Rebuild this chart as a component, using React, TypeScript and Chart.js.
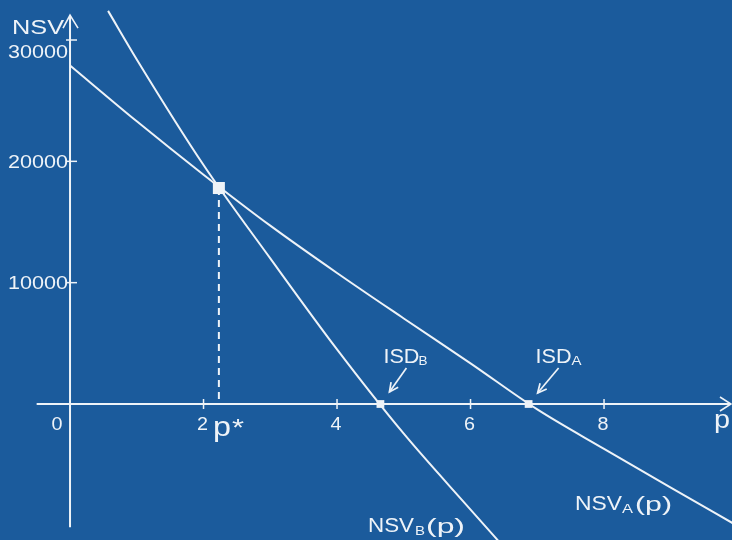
import React, { useEffect, useRef } from "react";
import { Chart, registerables } from "chart.js";

Chart.register(...registerables);

// ---- data ----
const pA = [0, 1, 2, 3, 4, 5, 6, 7, 8, 9, 10];
const nsvA = [27900, 23300, 18900, 14700, 10800, 7050, 3350, -450, -3700, -6900, -10050];

const pB = [0.57, 1, 2, 3, 4, 5, 6, 6.5];
const nsvB = [32400, 28400, 19700, 12000, 4500, -2450, -8700, -11800];

const pStar = 2.23;
const nsvStar = 17800;
const isdB = 4.65;
const isdA = 6.87;

const xTickValues = [2, 4, 6, 8];
const yTickValues = [10000, 20000, 30000];
const xOriginLabel = "0";

const BG = "rgb(27, 91, 156)";
const FG = "#eef3f8";
const FONT = '"Liberation Sans", Arial, Helvetica, sans-serif';

function fitText(
  ctx: CanvasRenderingContext2D,
  s: string,
  x: number,
  baseline: number,
  size: number,
  width: number,
  align: "left" | "center" | "right" = "left"
) {
  ctx.save();
  ctx.font = `${size}px ${FONT}`;
  const w = ctx.measureText(s).width;
  const sx = width / w;
  let left = x;
  if (align === "center") left = x - width / 2;
  if (align === "right") left = x - width;
  ctx.translate(left, baseline);
  ctx.scale(sx, 1);
  ctx.textAlign = "left";
  ctx.textBaseline = "alphabetic";
  ctx.fillStyle = FG;
  ctx.fillText(s, 0, 0);
  ctx.restore();
}

function line(ctx: CanvasRenderingContext2D, pts: number[][], w = 2) {
  ctx.beginPath();
  ctx.moveTo(pts[0][0], pts[0][1]);
  for (let i = 1; i < pts.length; i++) ctx.lineTo(pts[i][0], pts[i][1]);
  ctx.lineWidth = w;
  ctx.strokeStyle = FG;
  ctx.stroke();
}

function arrow(ctx: CanvasRenderingContext2D, x1: number, y1: number, x2: number, y2: number) {
  line(ctx, [[x1, y1], [x2, y2]], 1.7);
  const a = Math.atan2(y2 - y1, x2 - x1);
  const L = 10;
  line(
    ctx,
    [
      [x2 - L * Math.cos(a - 0.45), y2 - L * Math.sin(a - 0.45)],
      [x2, y2],
      [x2 - L * Math.cos(a + 0.45), y2 - L * Math.sin(a + 0.45)],
    ],
    1.7
  );
}

const decorPlugin = {
  id: "decor",
  beforeDraw(chart: any) {
    const { ctx, width, height } = chart;
    ctx.save();
    ctx.fillStyle = BG;
    ctx.fillRect(0, 0, width, height);
    ctx.restore();
  },
  beforeDatasetsDraw(chart: any) {
    const ctx = chart.ctx as CanvasRenderingContext2D;
    const xs = chart.scales.x;
    const ys = chart.scales.y;
    const x0 = xs.getPixelForValue(0);
    const y0 = ys.getPixelForValue(0);
    ctx.save();
    ctx.lineCap = "butt";
    // x axis
    const xl = xs.getPixelForValue(-0.5);
    const xr = chart.chartArea.right - 1;
    line(ctx, [[xl, y0], [xr, y0]], 2);
    line(ctx, [[xr - 11, y0 - 7], [xr, y0], [xr - 11, y0 + 7]], 1.6);
    // y axis
    const yb = ys.getPixelForValue(-10150);
    const yt = ys.getPixelForValue(32050);
    line(ctx, [[x0, yb], [x0, yt]], 2);
    line(ctx, [[x0 - 7, yt + 13], [x0, yt], [x0 + 8, yt + 13]], 1.6);
    // ticks
    for (const v of xTickValues) {
      const px = xs.getPixelForValue(v);
      line(ctx, [[px, y0 - 5], [px, y0 + 5]], 1.5);
    }
    for (const v of yTickValues) {
      const py = ys.getPixelForValue(v);
      line(ctx, [[x0 - 4, py], [x0 + 7, py]], 1.5);
    }
    ctx.restore();
  },
  afterDraw(chart: any) {
    const ctx = chart.ctx as CanvasRenderingContext2D;
    const xs = chart.scales.x;
    const ys = chart.scales.y;
    const x0 = xs.getPixelForValue(0);
    const y0 = ys.getPixelForValue(0);
    ctx.save();
    // y tick labels
    for (const v of yTickValues) {
      const py = ys.getPixelForValue(v);
      const off = v === 30000 ? 18 : 6.5;
      fitText(ctx, String(v), x0 - 2, py + off, 18, 60, "right");
    }
    // x tick labels
    fitText(ctx, xOriginLabel, x0 - 13, y0 + 26, 18, 11, "center");
    for (const v of xTickValues) {
      const px = xs.getPixelForValue(v);
      fitText(ctx, String(v), px - 1, y0 + 26, 18, 11, "center");
    }
    // axis titles
    fitText(ctx, "NSV", 12, 34, 19.5, 52, "left");
    fitText(ctx, "p", chart.chartArea.right - 18, y0 + 24, 26, 16, "left");
    // p*
    const ps = xs.getPixelForValue(pStar);
    fitText(ctx, "p", ps - 6, y0 + 32, 27, 18, "left");
    fitText(ctx, "*", ps + 13, y0 + 32, 24, 12, "left");
    // ISD labels and arrows
    const pb = xs.getPixelForValue(isdB);
    fitText(ctx, "ISD", pb + 3, y0 - 41, 20.5, 36, "left");
    fitText(ctx, "B", pb + 38, y0 - 39, 13, 9, "left");
    arrow(ctx, pb + 26, y0 - 36, pb + 9, y0 - 12);
    const pa = xs.getPixelForValue(isdA);
    fitText(ctx, "ISD", pa + 7, y0 - 41, 20.5, 36, "left");
    fitText(ctx, "A", pa + 43, y0 - 39, 13, 10, "left");
    arrow(ctx, pa + 30, y0 - 36, pa + 9, y0 - 11);
    // curve labels
    fitText(ctx, "NSV", 368, 532, 19.5, 46, "left");
    fitText(ctx, "B", 415, 535, 13, 10, "left");
    fitText(ctx, "(p)", 426, 533, 20, 39, "left");
    fitText(ctx, "NSV", 575, 510, 19.5, 47, "left");
    fitText(ctx, "A", 622, 513, 13, 11, "left");
    fitText(ctx, "(p)", 635, 511, 20, 37, "left");
    ctx.restore();
  },
};

export default function App() {
  const ref = useRef<HTMLCanvasElement | null>(null);

  useEffect(() => {
    document.body.style.margin = "0";
    const canvas = ref.current;
    if (!canvas) return;
    const chart = new Chart(canvas, {
      type: "scatter",
      data: {
        datasets: [
          {
            label: "NSV_A(p)",
            data: pA.map((p, i) => ({ x: p, y: nsvA[i] })),
            showLine: true,
            borderColor: FG,
            borderWidth: 2,
            pointRadius: 0,
            cubicInterpolationMode: "monotone",
          },
          {
            label: "NSV_B(p)",
            data: pB.map((p, i) => ({ x: p, y: nsvB[i] })),
            showLine: true,
            borderColor: FG,
            borderWidth: 2,
            pointRadius: 0,
            cubicInterpolationMode: "monotone",
          },
          {
            label: "p*",
            data: [
              { x: pStar, y: nsvStar },
              { x: pStar, y: 0 },
            ],
            showLine: true,
            borderColor: FG,
            borderWidth: 2,
            borderDash: [7, 5],
            pointRadius: 0,
          },
          {
            label: "ISD",
            data: [
              { x: isdB, y: 0 },
              { x: isdA, y: 0 },
            ],
            pointStyle: "rect",
            pointRadius: 5.5,
            pointBackgroundColor: FG,
            pointBorderColor: FG,
            pointBorderWidth: 0,
          },
          {
            label: "ISD dot",
            data: [
              { x: isdB, y: 0 },
              { x: isdA, y: 0 },
            ],
            pointRadius: 1.2,
            pointBackgroundColor: BG,
            pointBorderWidth: 0,
          },
          {
            label: "p* mark",
            data: [{ x: pStar, y: nsvStar }],
            pointStyle: "rect",
            pointRadius: 8.5,
            pointBackgroundColor: FG,
            pointBorderColor: FG,
            pointBorderWidth: 0,
          },
          {
            label: "p* cross",
            data: [{ x: pStar, y: nsvStar }],
            pointStyle: "crossRot",
            pointRadius: 4,
            pointBorderColor: BG,
            pointBorderWidth: 1.2,
          },
        ],
      },
      options: {
        animation: false,
        responsive: false,
        maintainAspectRatio: false,
        layout: { padding: 0, autoPadding: false },
        plugins: {
          legend: { display: false },
          tooltip: { enabled: false },
        },
        scales: {
          x: { type: "linear", display: false, min: -1.049, max: 9.917 },
          y: { type: "linear", display: false, min: -11209, max: 33297 },
        },
      },
      plugins: [decorPlugin],
    });
    return () => chart.destroy();
  }, []);

  return (
    <div style={{ width: 732, height: 540, background: BG }}>
      <canvas ref={ref} width={732} height={540} style={{ display: "block", width: 732, height: 540 }} />
    </div>
  );
}
